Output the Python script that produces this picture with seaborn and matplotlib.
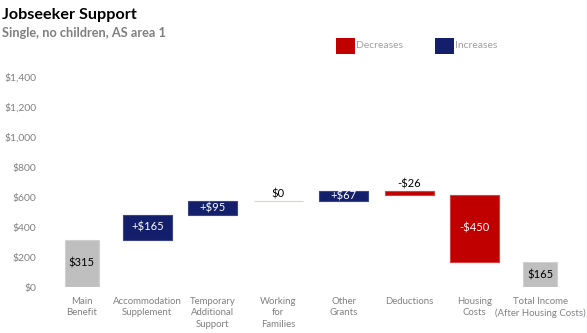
import matplotlib
matplotlib.use("Agg")
import matplotlib.pyplot as plt
import seaborn as sns
import pandas as pd
from matplotlib.patches import Rectangle
from matplotlib.lines import Line2D

categories = ["Main\nBenefit", "Accommodation\nSupplement", "Temporary\nAdditional\nSupport",
              "Working\nfor\nFamilies", "Other\nGrants", "Deductions", "Housing\nCosts",
              "Total Income\n(After Housing Costs)"]
changes = [315, 165, 95, 0, 67, -26, -450, 165]
kinds = ["total", "inc", "inc", "zero", "inc", "dec", "dec", "total"]
labels = ["$315", "+$165", "+$95", "$0", "+$67", "-$26", "-$450", "$165"]
yticks = [0, 200, 400, 600, 800, 1000, 1200, 1400]

RED = "#C00000"
NAVY = "#131F6B"
GRAY = "#BFBFBF"
colmap = {"total": GRAY, "inc": NAVY, "dec": RED, "zero": "#FFFFFF"}
edgemap = {"total": "#D0D0D0", "inc": "#3A4585", "dec": "#D84040", "zero": "#F6C8C8"}
widthmap = {"total": 0.52, "inc": 0.75, "dec": 0.75, "zero": 0.75}

# compute bottoms and heights for the waterfall
bottoms, heights = [], []
running = 0
for c, k in zip(changes, kinds):
    if k == "total":
        bottoms.append(0)
        heights.append(c)
        if running == 0:
            running = c
    else:
        if c >= 0:
            bottoms.append(running)
            heights.append(c)
        else:
            bottoms.append(running + c)
            heights.append(-c)
        running += c

df = pd.DataFrame({"cat": categories, "h": heights})

sns.set_style("white")
plt.rcParams["font.family"] = ["Lato", "DejaVu Sans"]

fig = plt.figure(figsize=(5.87, 3.33), dpi=100)
ax = fig.add_axes([49 / 587, 1 - 287 / 333, 524 / 587, 210 / 333])

sns.barplot(data=df, x="cat", y="h", hue="cat", palette=[colmap[k] for k in kinds],
            legend=False, width=0.75, ax=ax, saturation=1)

for i, (p, b, k) in enumerate(zip(ax.patches, bottoms, kinds)):
    w = widthmap[k]
    p.set_y(b)
    p.set_x(i - w / 2)
    p.set_width(w)
    p.set_edgecolor(edgemap[k])
    p.set_linewidth(0.8)

ax.set_ylim(0, 1400)
ax.set_xlim(-0.5, len(categories) - 0.5)
ax.set_yticks(yticks)
ax.set_yticklabels([f"${v:,}" for v in yticks])
ax.set_xlabel("")
ax.set_ylabel("")
sns.despine(ax=ax, left=True, bottom=True)
ax.tick_params(axis="y", length=0, pad=9, labelsize=7.5, labelcolor="#808080")
ax.tick_params(axis="x", length=0, pad=7, labelsize=6.9, labelcolor="#808080")
for t in ax.get_xticklabels():
    t.set_linespacing(1.35)
    t.set_verticalalignment("top")

# value labels
for i, (lab, b, h, k) in enumerate(zip(labels, bottoms, heights, kinds)):
    if k == "zero" or (k == "dec" and h < 60):
        ax.text(i, b + h + 10, lab, ha="center", va="bottom", fontsize=8, color="black")
    else:
        color = "black" if k == "total" else "white"
        ax.text(i, b + h / 2, lab, ha="center", va="center", fontsize=8, color=color)

# titles
fig.text(2 / 587, 1 - 19 / 333, "Jobseeker Support", fontsize=11.6, fontweight="bold",
         color="black", ha="left", va="baseline")
fig.text(2 / 587, 1 - 37 / 333, "Single, no children, AS area 1", fontsize=9.2,
         fontweight="bold", color="#7F7F7F", ha="left", va="baseline")

# legend
for x0, col, txt in [(336, RED, "Decreases"), (435, NAVY, "Increases")]:
    fig.add_artist(Rectangle((x0 / 587, 1 - 54 / 333), 19 / 587, 16 / 333,
                             transform=fig.transFigure, facecolor=col, edgecolor="none"))
    fig.text((x0 + 20) / 587, 1 - 46 / 333, txt, fontsize=7.5, color="#A0A0A0",
             ha="left", va="center")

# faint right border
fig.add_artist(Line2D([586.5 / 587, 586.5 / 587], [0, 1], transform=fig.transFigure,
                      color="#DDE8F4", linewidth=1))

fig.savefig("out.png", dpi=100)
